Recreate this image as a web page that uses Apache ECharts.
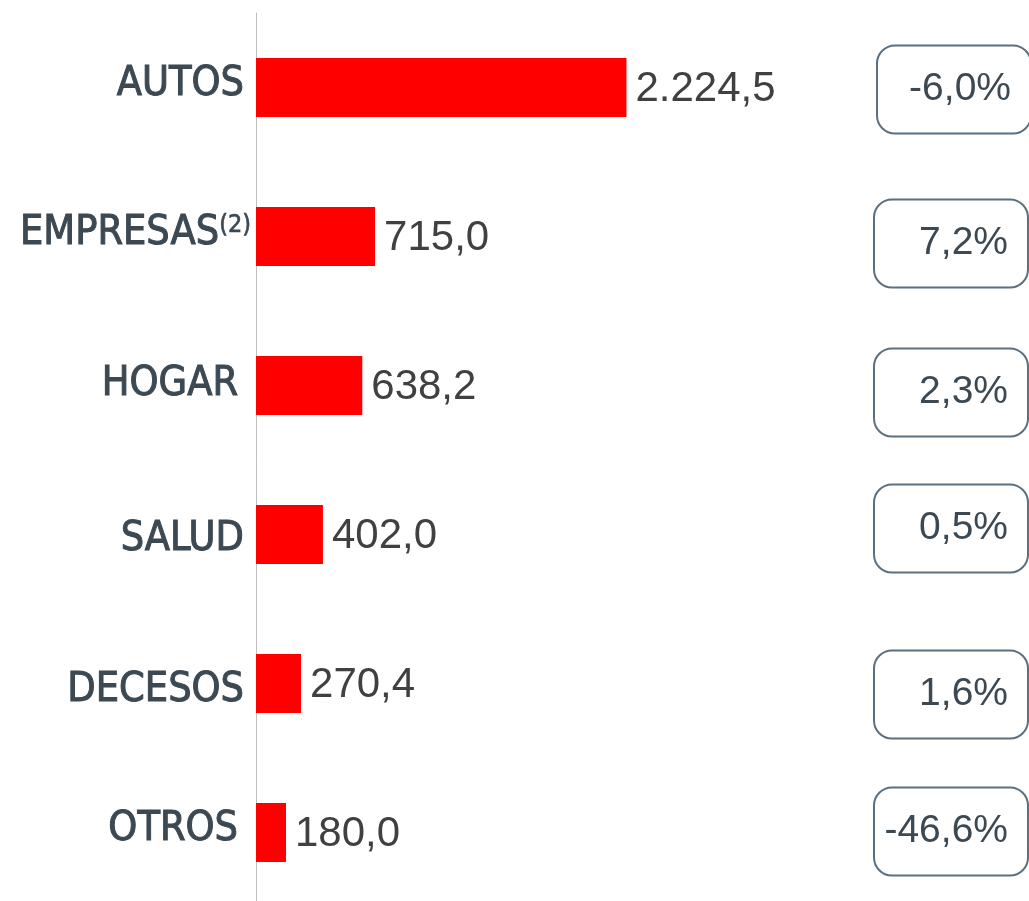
<!DOCTYPE html>
<html>
<head>
<meta charset="utf-8">
<script src="https://cdn.jsdelivr.net/npm/echarts@6/dist/echarts.min.js"></script>
<style>
html, body { margin: 0; padding: 0; background: #fff; }
#chart { width: 1029px; height: 901px; }
</style>
</head>
<body>
<div id="chart"></div>
<script>
// datos
var ramos = ['AUTOS', 'EMPRESAS', 'HOGAR', 'SALUD', 'DECESOS', 'OTROS'];
var notas = ['', '(2)', '', '', '', ''];
var primas = [2224.5, 715.0, 638.2, 402.0, 270.4, 180.0];
var variacion = [-6.0, 7.2, 2.3, 0.5, 1.6, -46.6];

// ajustes de maquetacion (px) [dx, dy], como en la diapositiva original
var ajusteEtiqueta = [[-7, -3], [0, -3], [-13, -1], [-7, 5], [-7, 7], [-13, -3]];
var ajusteCaja = [[3, 2], [0, 7], [0, 7], [0, -6], [0, 11], [0, -1]];

// 2224.5 -> "2.224,5"
function fmtEs(v, dec) {
    var s = Math.abs(v).toFixed(dec).split('.');
    var ent = s[0].replace(/\B(?=(\d{3})+(?!\d))/g, '.');
    return (v < 0 ? '-' : '') + ent + (s[1] ? ',' + s[1] : '');
}

var catFont = '"DejaVu Sans Condensed", "Liberation Sans", sans-serif';
var numFont = '"Liberation Sans", Arial, sans-serif';
var gris = '#3c4953';

// un estilo rich por categoria para poder desplazar cada etiqueta
var richCat = {
    s: {fontFamily: catFont, fontSize: 25, color: gris, textBorderColor: gris, textBorderWidth: 0.6, verticalAlign: 'top'}
};
ajusteEtiqueta.forEach(function (a, i) {
    var dy = a[1];
    richCat['c' + i] = {
        fontFamily: catFont, fontSize: 41, color: gris,
        textBorderColor: gris, textBorderWidth: 1,
        padding: [dy > 0 ? 2 * dy : 0, notas[i] ? 0 : -a[0], dy < 0 ? -2 * dy : 0, 0]
    };
});

var chart = echarts.init(document.getElementById('chart'));
chart.setOption({
    animation: false,
    grid: [
        {left: 256, top: 13, width: 694.5, height: 894, outerBoundsMode: 'none', containLabel: false},   // barras
        {left: 872, top: 13, width: 156, height: 894, outerBoundsMode: 'none', containLabel: false}      // cajas de variacion
    ],
    xAxis: [
        {gridIndex: 0, type: 'value', min: 0, max: 4170, show: false},
        {gridIndex: 1, type: 'value', min: 0, max: 1, show: false}
    ],
    yAxis: [
        {
            gridIndex: 0,
            type: 'category',
            inverse: true,
            data: ramos,
            axisTick: {show: false},
            splitLine: {show: false},
            axisLine: {show: true, lineStyle: {color: '#bfbfbf', width: 1}},
            axisLabel: {
                margin: 5,
                formatter: function (v, i) {
                    var t = '{c' + i + '|' + v + '}';
                    return notas[i] ? t + '{s|' + notas[i] + '}' : t;
                },
                rich: richCat
            }
        },
        {gridIndex: 1, type: 'category', inverse: true, data: ramos, show: false}
    ],
    series: [
        {
            name: 'Primas',
            type: 'bar',
            xAxisIndex: 0,
            yAxisIndex: 0,
            barWidth: 59,
            itemStyle: {color: '#ff0000'},
            label: {
                show: true,
                position: 'right',
                distance: 9,
                offset: [0, 2],
                fontFamily: numFont,
                fontSize: 42,
                color: '#404040',
                formatter: function (p) { return fmtEs(p.value, 1); }
            },
            data: primas
        },
        {
            name: 'Variacion',
            type: 'scatter',
            xAxisIndex: 1,
            yAxisIndex: 1,
            symbolSize: 1,
            itemStyle: {color: 'rgba(0,0,0,0)', opacity: 1},
            label: {
                show: true,
                position: 'inside',
                align: 'right',
                verticalAlign: 'middle',
                width: 134,
                lineHeight: 88,
                padding: [0, 20, 0, 0],
                borderColor: '#5b6f7e',
                borderWidth: 2,
                borderRadius: 18,
                fontFamily: numFont,
                fontSize: 39,
                color: gris,
                formatter: function (p) { return fmtEs(variacion[p.dataIndex], 1) + '%'; }
            },
            data: variacion.map(function (v, i) {
                return {value: [1, i], label: {offset: ajusteCaja[i]}};
            })
        }
    ]
});
</script>
</body>
</html>
